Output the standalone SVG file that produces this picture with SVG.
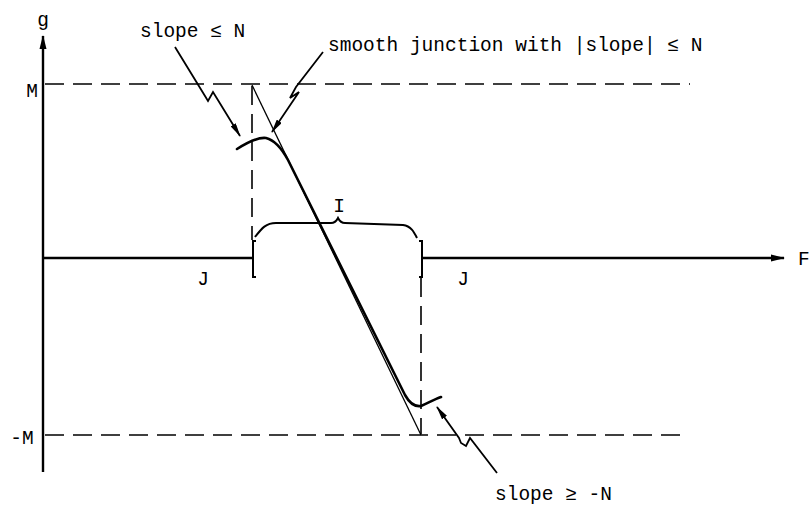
<svg xmlns="http://www.w3.org/2000/svg" width="811" height="506" viewBox="0 0 811 506">
<defs>
<style>
.t{font-family:"Liberation Mono","DejaVu Sans Mono",monospace;font-size:19.5px;fill:#000}
.dash{stroke:#000;stroke-width:1.6;fill:none;stroke-dasharray:19 9}
.axis{stroke:#000;stroke-width:2.4;fill:none}
.lead{stroke:#000;stroke-width:1.8;fill:none;stroke-linejoin:miter}
</style>
<marker id="ah" viewBox="0 0 14 6" refX="13" refY="3" markerWidth="14" markerHeight="6" markerUnits="userSpaceOnUse" orient="auto">
<path d="M0,0 L14,3 L0,6 z" fill="#000"/>
</marker>
<marker id="ax" viewBox="0 0 14 8" refX="13" refY="4" markerWidth="14" markerHeight="8" markerUnits="userSpaceOnUse" orient="auto">
<path d="M0,0.5 L14,4 L0,7.5 z" fill="#000"/>
</marker>
</defs>
<rect width="811" height="506" fill="#fff"/>

<g id="axes">
<line class="axis" x1="43" y1="472" x2="43" y2="36" marker-end="url(#ax)"/>
<line class="axis" x1="42" y1="258" x2="253" y2="258"/>
<line class="axis" x1="423" y1="258" x2="784" y2="258" marker-end="url(#ax)"/>
<text class="t" x="43" y="26" text-anchor="middle">g</text>
<text class="t" x="798" y="265">F</text>
</g>

<g id="bounds">
<line class="dash" x1="45" y1="84" x2="690" y2="84"/>
<line class="dash" x1="45" y1="435" x2="680" y2="435"/>
<line class="dash" x1="252" y1="86" x2="252" y2="240"/>
<line class="dash" x1="421" y1="278" x2="421" y2="434"/>
<text class="t" x="32" y="97" text-anchor="middle">M</text>
<text class="t" x="22" y="444" text-anchor="middle">-M</text>
</g>

<g id="interval">
<path d="M256,241 L253,241 L253,277 L256,277" stroke="#000" stroke-width="2" fill="none"/>
<path d="M419,241 L422,241 L422,277 L419,277" stroke="#000" stroke-width="2" fill="none"/>
<path d="M255,237 C262,228 266,223 276,223 L331,223 C335,223 337,220 338,218 C339,220 341,223 345,223 L403,225 C411,226 414,232 417,238" stroke="#000" stroke-width="2" fill="none"/>
<text class="t" x="339" y="212" text-anchor="middle">I</text>
<text class="t" x="203" y="285" text-anchor="middle">J</text>
<text class="t" x="463" y="285" text-anchor="middle">J</text>
</g>

<g id="curve">
<line x1="252" y1="85" x2="421" y2="435" stroke="#000" stroke-width="1.3"/>
<path d="M237,149 C248,142 258,137 266,138 C274,140 281,147 288,160 L405,395 C410,404 415,407 421,406 C428,403 435,399 441,397" stroke="#000" stroke-width="2.6" fill="none" stroke-linecap="round"/>
</g>

<g id="connectors">
<path class="lead" d="M175,47 L205,96 L208,101 L213,92 L240,136" marker-end="url(#ah)"/>
<path class="lead" d="M323,52 L296,87 L290,98 L299,92 L272,132" marker-end="url(#ah)"/>
<path class="lead" d="M497,473 L470,438 L466,446 L461,443 L459,438 L437,407" marker-end="url(#ah)"/>
</g>

<g id="labels">
<text class="t" x="140" y="37">slope ≤ N</text>
<text class="t" x="328" y="51">smooth junction with |slope| ≤ N</text>
<text class="t" x="495" y="500">slope ≥ -N</text>
</g>
</svg>
